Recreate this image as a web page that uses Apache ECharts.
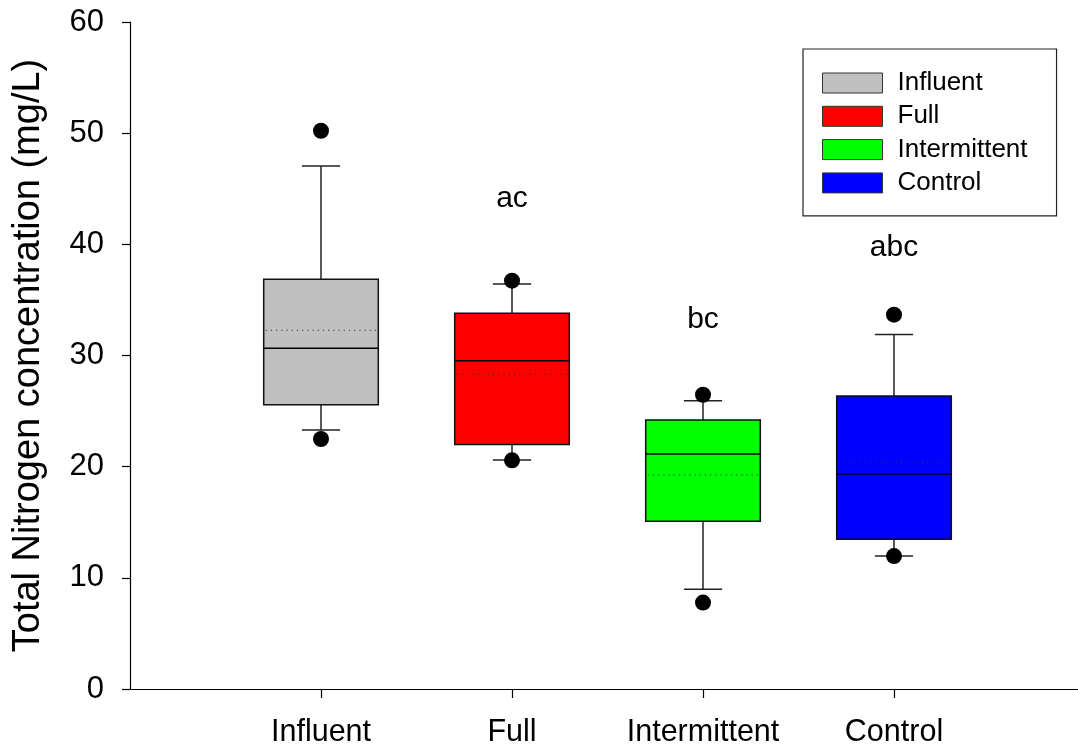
<!DOCTYPE html>
<html>
<head>
<meta charset="utf-8">
<script src="https://cdn.jsdelivr.net/npm/echarts@6/dist/echarts.min.js"></script>
<style>
html,body{margin:0;padding:0;background:#fff;}
#chart{width:1078px;height:749px;}
</style>
</head>
<body>
<div id="chart"></div>
<script>
const categories = ['Influent', 'Full', 'Intermittent', 'Control'];
const categoryPos = [1, 2, 3, 4];
const whiskerLow = [23.3, 20.6, 8.97, 11.96];
const q1 = [25.57, 22.0, 15.08, 13.46];
const median = [30.65, 29.53, 21.14, 19.34];
const q3 = [36.85, 33.79, 24.2, 26.36];
const whiskerHigh = [47.05, 36.43, 25.93, 31.9];
const mean = [32.27, 28.3, 19.25, 20.36];
const outlierHigh = [50.22, 36.73, 26.47, 33.67];
const outlierLow = [22.49, 20.57, 7.77, 11.96];
const colors = ['#c0c0c0', '#ff0000', '#00ff00', '#0000ff'];
const letters = ['ac', 'bc', 'abc'];
const letterPos = [2, 3, 4];
const letterY = [44.1, 33.2, 39.7];

const FONT = "'Liberation Sans', Arial, sans-serif";

function renderBox(params, api) {
  const x = api.value(0);
  const lo = api.coord([x, api.value(1)]);
  const b1 = api.coord([x, api.value(2)]);
  const md = api.coord([x, api.value(3)]);
  const b3 = api.coord([x, api.value(4)]);
  const hi = api.coord([x, api.value(5)]);
  const mn = api.coord([x, api.value(6)]);
  const bw = api.size([0.6, 0])[0];
  const cw = api.size([0.2, 0])[0];
  const cx = lo[0];
  const lineStyle = {stroke: '#222', lineWidth: 1.5};
  return {
    type: 'group',
    children: [
      {type: 'line', shape: {x1: cx, y1: b3[1], x2: cx, y2: hi[1]}, style: lineStyle},
      {type: 'line', shape: {x1: cx, y1: b1[1], x2: cx, y2: lo[1]}, style: lineStyle},
      {type: 'line', shape: {x1: cx - cw / 2, y1: hi[1], x2: cx + cw / 2, y2: hi[1]}, style: lineStyle},
      {type: 'line', shape: {x1: cx - cw / 2, y1: lo[1], x2: cx + cw / 2, y2: lo[1]}, style: lineStyle},
      {type: 'rect', shape: {x: cx - bw / 2, y: b3[1], width: bw, height: b1[1] - b3[1]},
        style: {fill: api.visual('color'), stroke: '#111', lineWidth: 1.5}},
      {type: 'line', shape: {x1: cx - bw / 2, y1: md[1], x2: cx + bw / 2, y2: md[1]},
        style: {stroke: '#000', lineWidth: 1.5}},
      {type: 'line', shape: {x1: cx - bw / 2 + 2, y1: mn[1], x2: cx + bw / 2, y2: mn[1]},
        style: {stroke: '#333', lineWidth: 1, lineDash: [1.2, 4]}}
    ]
  };
}

const boxSeries = categories.map((name, i) => ({
  name: name,
  type: 'custom',
  renderItem: renderBox,
  itemStyle: {color: colors[i]},
  encode: {x: 0, y: [1, 2, 3, 4, 5]},
  data: [[categoryPos[i], whiskerLow[i], q1[i], median[i], q3[i], whiskerHigh[i], mean[i]]],
  z: 2
}));

const outlierData = [];
categoryPos.forEach((p, i) => {
  outlierData.push([p, outlierHigh[i]]);
  outlierData.push([p, outlierLow[i]]);
});

const chart = echarts.init(document.getElementById('chart'), null, {renderer: 'canvas'});
chart.setOption({
  animation: false,
  backgroundColor: '#fff',
  textStyle: {fontFamily: FONT},
  grid: {left: 130, top: 22, bottom: 60, right: -7, containLabel: false, outerBoundsMode: 'none'},
  legend: {
    orient: 'vertical',
    left: 803,
    top: 49,
    padding: [21, 29, 20, 19],
    borderColor: '#222',
    borderWidth: 1.2,
    itemWidth: 60,
    itemHeight: 20,
    itemGap: 7.3,
    selectedMode: false,
    textStyle: {fontSize: 26, color: '#000', fontFamily: FONT, padding: [0, 0, 0, 10]},
    data: categories.map((n, i) => ({
      name: n, icon: 'rect',
      itemStyle: {color: colors[i], borderColor: '#333', borderWidth: 1}
    }))
  },
  xAxis: {
    type: 'value',
    min: 0,
    max: 5,
    interval: 1,
    splitLine: {show: false},
    axisLine: {show: true, lineStyle: {color: '#000', width: 1.2}},
    axisTick: {show: true, length: 9, inside: false, customValues: categoryPos, lineStyle: {color: '#000', width: 1.2}},
    axisLabel: {
      show: true, fontSize: 30.5, color: '#000', margin: 28, fontFamily: FONT,
      customValues: categoryPos,
      formatter: v => categories[categoryPos.indexOf(v)] || ''
    }
  },
  yAxis: {
    type: 'value',
    min: 0,
    max: 60,
    interval: 10,
    name: 'Total Nitrogen concentration (mg/L)',
    nameLocation: 'middle',
    nameGap: 82,
    nameTextStyle: {fontSize: 38, color: '#000', fontFamily: FONT},
    splitLine: {show: false},
    axisLine: {show: true, lineStyle: {color: '#000', width: 1.2}},
    axisTick: {show: true, length: 8, inside: false, lineStyle: {color: '#000', width: 1.2}},
    axisLabel: {fontSize: 31, color: '#000', margin: 26, fontFamily: FONT}
  },
  series: boxSeries.concat([
    {
      type: 'scatter',
      name: 'outliers',
      data: outlierData,
      symbol: 'circle',
      symbolSize: 16,
      itemStyle: {color: '#000', opacity: 1},
      z: 5
    },
    {
      type: 'scatter',
      name: 'letters',
      data: letterPos.map((p, i) => ({value: [p, letterY[i]], label: {formatter: letters[i]}})),
      symbolSize: 0,
      itemStyle: {opacity: 1},
      label: {show: true, position: 'inside', fontSize: 30, color: '#000', opacity: 1, fontFamily: FONT},
      z: 6
    }
  ])
});
</script>
</body>
</html>
